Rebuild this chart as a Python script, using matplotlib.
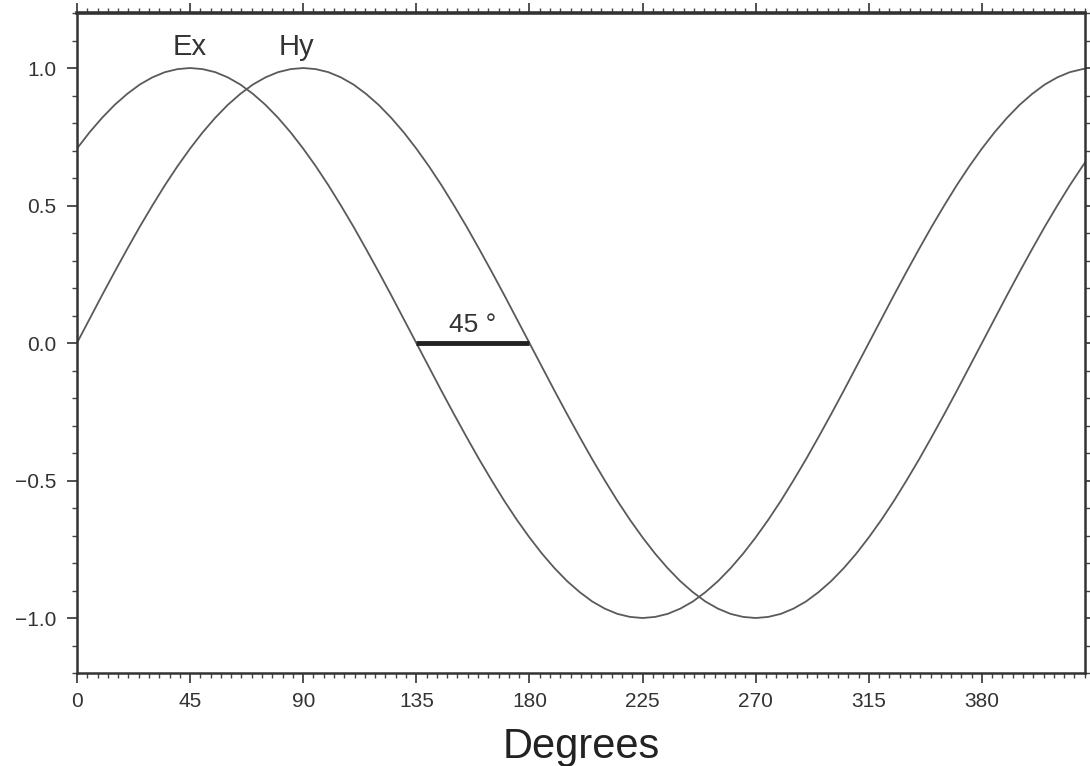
import matplotlib
matplotlib.use("Agg")
import matplotlib.pyplot as plt
from matplotlib.ticker import MultipleLocator, FixedLocator

plt.rcParams['font.family'] = ['Liberation Sans', 'DejaVu Sans']

# Values (degrees, amplitude), every 5 degrees
degrees = [0, 5, 10, 15, 20, 25, 30, 35, 40, 45, 50, 55, 60, 65, 70, 75, 80, 85, 90,
           95, 100, 105, 110, 115, 120, 125, 130, 135, 140, 145, 150, 155, 160, 165,
           170, 175, 180, 185, 190, 195, 200, 205, 210, 215, 220, 225, 230, 235, 240,
           245, 250, 255, 260, 265, 270, 275, 280, 285, 290, 295, 300, 305, 310, 315,
           320, 325, 330, 335, 340, 345, 350, 355, 360, 365, 370, 375, 380, 385, 390,
           395, 400, 405]
ex_values = [0.707, 0.766, 0.819, 0.866, 0.906, 0.940, 0.966, 0.985, 0.996, 1.000,
             0.996, 0.985, 0.966, 0.940, 0.906, 0.866, 0.819, 0.766, 0.707, 0.643,
             0.574, 0.500, 0.423, 0.342, 0.259, 0.174, 0.087, 0.000, -0.087, -0.174,
             -0.259, -0.342, -0.423, -0.500, -0.574, -0.643, -0.707, -0.766, -0.819,
             -0.866, -0.906, -0.940, -0.966, -0.985, -0.996, -1.000, -0.996, -0.985,
             -0.966, -0.940, -0.906, -0.866, -0.819, -0.766, -0.707, -0.643, -0.574,
             -0.500, -0.423, -0.342, -0.259, -0.174, -0.087, 0.000, 0.087, 0.174,
             0.259, 0.342, 0.423, 0.500, 0.574, 0.643, 0.707, 0.766, 0.819, 0.866,
             0.906, 0.940, 0.966, 0.985, 0.996, 1.000]
hy_values = [0.000, 0.087, 0.174, 0.259, 0.342, 0.423, 0.500, 0.574, 0.643, 0.707,
             0.766, 0.819, 0.866, 0.906, 0.940, 0.966, 0.985, 0.996, 1.000, 0.996,
             0.985, 0.966, 0.940, 0.906, 0.866, 0.819, 0.766, 0.707, 0.643, 0.574,
             0.500, 0.423, 0.342, 0.259, 0.174, 0.087, 0.000, -0.087, -0.174, -0.259,
             -0.342, -0.423, -0.500, -0.574, -0.643, -0.707, -0.766, -0.819, -0.866,
             -0.906, -0.940, -0.966, -0.985, -0.996, -1.000, -0.996, -0.985, -0.966,
             -0.940, -0.906, -0.866, -0.819, -0.766, -0.707, -0.643, -0.574, -0.500,
             -0.423, -0.342, -0.259, -0.174, -0.087, 0.000, 0.087, 0.174, 0.259,
             0.342, 0.423, 0.500, 0.574, 0.643, 0.707]

x_ticks = [0, 45, 90, 135, 180, 225, 270, 315, 360]
x_tick_labels = ["0", "45", "90", "135", "180", "225", "270", "315", "380"]
y_ticks = [-1.0, -0.5, 0.0, 0.5, 1.0]
y_tick_labels = ["\u22121.0", "\u22120.5", "0.0", "0.5", "1.0"]

phase_start, phase_end = 135, 180

fig = plt.figure(figsize=(10.9, 7.66), dpi=100)
ax = fig.add_axes([0.0706, 0.1214, 0.9248, 0.8616])

curve_color = '#5a5a5a'
ax.plot(degrees, ex_values, color=curve_color, lw=1.3)
ax.plot(degrees, hy_values, color=curve_color, lw=1.3)
ax.plot([phase_start, phase_end], [0, 0], color='#222222', lw=3.5, solid_capstyle='butt')

ax.text(45, 1.075, "Ex", fontsize=21, ha='center', va='center', color='#333333')
ax.text(87.5, 1.075, "Hy", fontsize=21, ha='center', va='center', color='#333333')
ax.text(157.5, 0.022, "45 \u00b0", fontsize=19, ha='center', va='bottom', color='#333333')

ax.set_xlim(0, 401)
ax.set_ylim(-1.2, 1.2)

ax.xaxis.set_major_locator(FixedLocator(x_ticks))
ax.set_xticklabels(x_tick_labels)
ax.xaxis.set_minor_locator(MultipleLocator(45 / 11))
ax.yaxis.set_major_locator(FixedLocator(y_ticks))
ax.set_yticklabels(y_tick_labels)
ax.yaxis.set_minor_locator(MultipleLocator(0.1))

ax.tick_params(axis='both', which='major', direction='out', length=7, width=1.2,
               colors='#333333', labelsize=15, labelcolor='#333333',
               top=True, right=True)
ax.tick_params(axis='both', which='minor', direction='out', length=3.5, width=1.0,
               colors='#444444', top=True, right=True)
ax.tick_params(axis='x', which='major', pad=7)
ax.tick_params(axis='y', which='major', pad=8)

for side, sp in ax.spines.items():
    sp.set_color('#333333')
    sp.set_linewidth(1.8)
ax.spines['top'].set_linewidth(2.6)

ax.set_xlabel("Degrees", fontsize=30, color='#222222', labelpad=11)

fig.savefig("out.png", dpi=100, facecolor='white')
